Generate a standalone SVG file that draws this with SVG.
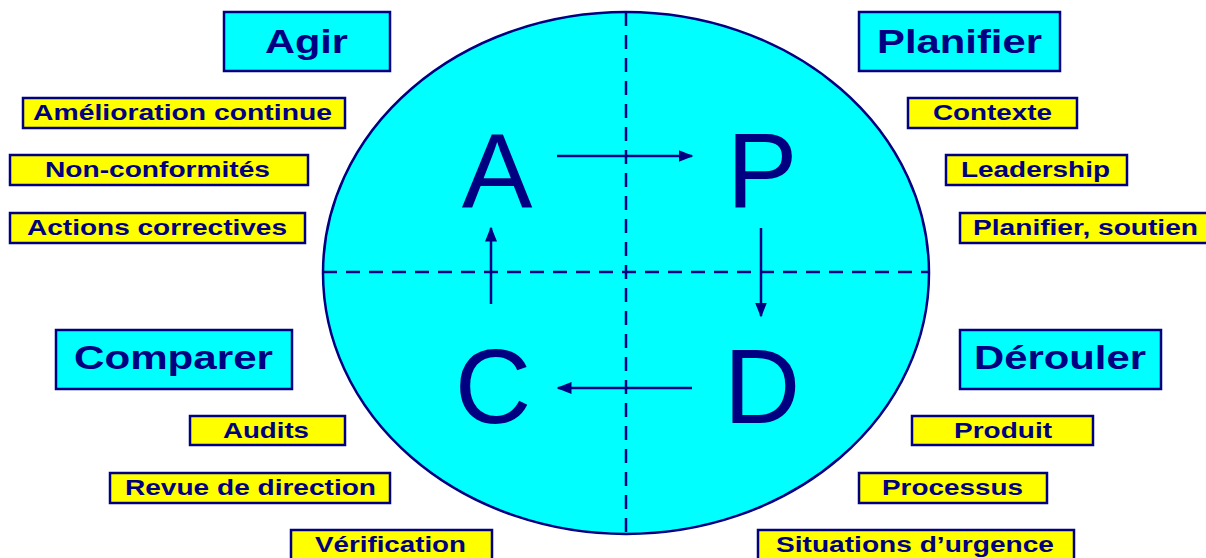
<svg xmlns="http://www.w3.org/2000/svg" width="1206" height="558" viewBox="0 0 1206 558">
<style>
.t{fill:#00FFFF;stroke:#000080;stroke-width:2.5}
.y{fill:#FFFF00;stroke:#000080;stroke-width:2.5}
.tt{font-family:"Liberation Sans",Arial,sans-serif;font-weight:bold;font-size:34px;fill:#000080;text-anchor:middle}
.yt{font-family:"Liberation Sans",Arial,sans-serif;font-weight:bold;font-size:22px;fill:#000080;text-anchor:middle}
.big{font-family:"Liberation Sans",Arial,sans-serif;font-size:106px;fill:#000080;text-anchor:middle}
.ln{stroke:#000080;stroke-width:2.5;fill:none}
.dash{stroke:#000080;stroke-width:2.5;stroke-dasharray:14 9;fill:none}
</style>
<defs>
<marker id="ah" viewBox="0 0 10 10" refX="9" refY="5" markerWidth="6" markerHeight="6" orient="auto" markerUnits="strokeWidth">
<path d="M0,1 L10,5 L0,9 Z" fill="#000080"/>
</marker>
</defs>
<rect width="1206" height="558" fill="#fff"/>
<g id="cycle">
<ellipse cx="626" cy="273" rx="303" ry="261" fill="#00FFFF" stroke="#000080" stroke-width="2.5"/>
<line class="dash" x1="626" y1="12" x2="626" y2="534"/>
<line class="dash" x1="323" y1="272" x2="929" y2="272"/>
<text class="big" x="497" y="207">A</text>
<text class="big" x="762" y="207">P</text>
<text class="big" x="493" y="423">C</text>
<text class="big" x="762" y="423">D</text>
</g>
<g id="connectors">
<line class="ln" x1="557" y1="156" x2="692" y2="156" marker-end="url(#ah)"/>
<line class="ln" x1="761" y1="228" x2="761" y2="316" marker-end="url(#ah)"/>
<line class="ln" x1="692" y1="388" x2="558" y2="388" marker-end="url(#ah)"/>
<line class="ln" x1="491" y1="304" x2="491" y2="228" marker-end="url(#ah)"/>
</g>
<g id="agir"><rect class="t" x="224" y="12" width="166" height="59"/><text class="tt" x="306.5" y="53" textLength="83" lengthAdjust="spacingAndGlyphs">Agir</text></g>
<g id="planifier"><rect class="t" x="859" y="12" width="201" height="59"/><text class="tt" x="959.5" y="53" textLength="165" lengthAdjust="spacingAndGlyphs">Planifier</text></g>
<g id="comparer"><rect class="t" x="56" y="330" width="236" height="59"/><text class="tt" x="173.5" y="369" textLength="199" lengthAdjust="spacingAndGlyphs">Comparer</text></g>
<g id="derouler"><rect class="t" x="960" y="330" width="201" height="59"/><text class="tt" x="1060" y="369" textLength="172" lengthAdjust="spacingAndGlyphs">Dérouler</text></g>
<g id="amelioration"><rect class="y" x="23" y="98" width="322" height="30"/><text class="yt" x="182.5" y="120" textLength="299" lengthAdjust="spacingAndGlyphs">Amélioration continue</text></g>
<g id="nonconf"><rect class="y" x="10" y="155" width="298" height="30"/><text class="yt" x="157.5" y="177" textLength="225" lengthAdjust="spacingAndGlyphs">Non-conformités</text></g>
<g id="actions"><rect class="y" x="10" y="213" width="295" height="30"/><text class="yt" x="157" y="235" textLength="260" lengthAdjust="spacingAndGlyphs">Actions correctives</text></g>
<g id="contexte"><rect class="y" x="908" y="98" width="169" height="30"/><text class="yt" x="992.5" y="120" textLength="119" lengthAdjust="spacingAndGlyphs">Contexte</text></g>
<g id="leadership"><rect class="y" x="946" y="155" width="181" height="30"/><text class="yt" x="1035.5" y="177" textLength="149" lengthAdjust="spacingAndGlyphs">Leadership</text></g>
<g id="soutien"><rect class="y" x="960" y="213" width="250" height="30"/><text class="yt" x="1085.5" y="235" textLength="225" lengthAdjust="spacingAndGlyphs">Planifier, soutien</text></g>
<g id="audits"><rect class="y" x="190" y="416" width="155" height="29"/><text class="yt" x="266" y="438" textLength="86" lengthAdjust="spacingAndGlyphs">Audits</text></g>
<g id="revue"><rect class="y" x="110" y="473" width="280" height="30"/><text class="yt" x="250.5" y="495" textLength="251" lengthAdjust="spacingAndGlyphs">Revue de direction</text></g>
<g id="verif"><rect class="y" x="291" y="530" width="201" height="34"/><text class="yt" x="390.5" y="552" textLength="151" lengthAdjust="spacingAndGlyphs">Vérification</text></g>
<g id="produit"><rect class="y" x="912" y="416" width="181" height="29"/><text class="yt" x="1003" y="438" textLength="98" lengthAdjust="spacingAndGlyphs">Produit</text></g>
<g id="processus"><rect class="y" x="859" y="473" width="188" height="30"/><text class="yt" x="952.5" y="495" textLength="141" lengthAdjust="spacingAndGlyphs">Processus</text></g>
<g id="urgence"><rect class="y" x="758" y="530" width="316" height="34"/><text class="yt" x="915" y="552" textLength="278" lengthAdjust="spacingAndGlyphs">Situations d’urgence</text></g>
</svg>
